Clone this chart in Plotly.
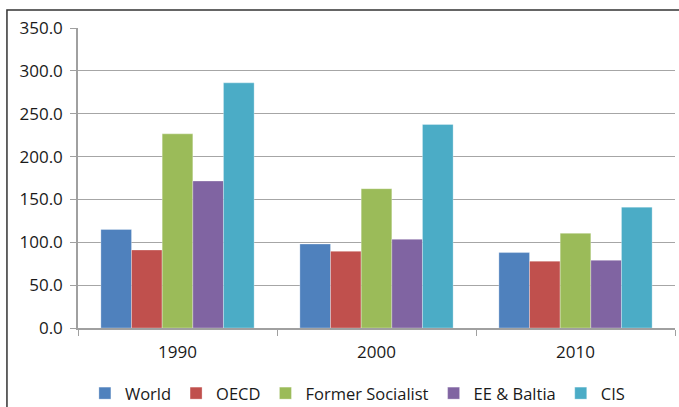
import plotly.graph_objects as go

years = ["1990", "2000", "2010"]
series_names = ["World", "OECD", "Former Socialist", "EE & Baltia", "CIS"]
world = [115.0, 98.0, 88.0]
oecd = [91.0, 89.5, 78.0]
former_socialist = [226.5, 162.5, 110.5]
ee_baltia = [171.5, 103.5, 79.0]
cis = [286.0, 237.5, 141.0]
colors = ["#4F81BD", "#C0504D", "#9BBB59", "#8064A2", "#4BACC6"]
y_ticks = [0, 50, 100, 150, 200, 250, 300, 350]

fig = go.Figure()
for name, vals, c in zip(series_names, [world, oecd, former_socialist, ee_baltia, cis], colors):
    fig.add_trace(go.Bar(x=years, y=vals, name=name,
                         marker=dict(color=c, line=dict(color="rgba(255,255,255,0.6)", width=0.5))))

fig.update_layout(
    width=679, height=407,
    margin=dict(l=78, r=4, t=28, b=79, autoexpand=False),
    paper_bgcolor="white", plot_bgcolor="white",
    barmode="group", bargap=0.23, bargroupgap=0,
    font=dict(family="Open Sans, sans-serif", size=17, color="#1a1a1a"),
    showlegend=True,
    legend=dict(orientation="h", x=0.468, xanchor="center", y=-0.218, yanchor="middle",
                font=dict(size=16.5), itemwidth=30, traceorder="normal", tracegroupgap=0),
    xaxis=dict(showline=True, linecolor="#A0A0A0", linewidth=1.5, ticks="outside",
               tickson="boundaries", ticklen=6, tickcolor="#A0A0A0", showgrid=False,
               ticklabelstandoff=8, automargin=False),
    yaxis=dict(range=[0, 350], tickvals=y_ticks, tickformat=".1f", showgrid=True,
               gridcolor="#A6A6A6", gridwidth=1.3, showline=True, linecolor="#A0A0A0",
               linewidth=1.5, ticks="outside", ticklen=6, tickcolor="#A0A0A0",
               zeroline=False, ticklabelstandoff=4, automargin=False),
    shapes=[dict(type="rect", xref="paper", yref="paper", x0=-0.119, x1=1.2, y0=-0.6, y1=1.06,
                 line=dict(color="#333333", width=1.5), fillcolor="rgba(0,0,0,0)", layer="below")],
)
post = ("document.body.style.margin='0';document.body.style.overflow='hidden';"
        "var gd=document.getElementById('{plot_id}');"
        "Plotly.relayout(gd,{width:679,height:407});")
fig.write_html("out.html", post_script=post, config={"displayModeBar": False})
